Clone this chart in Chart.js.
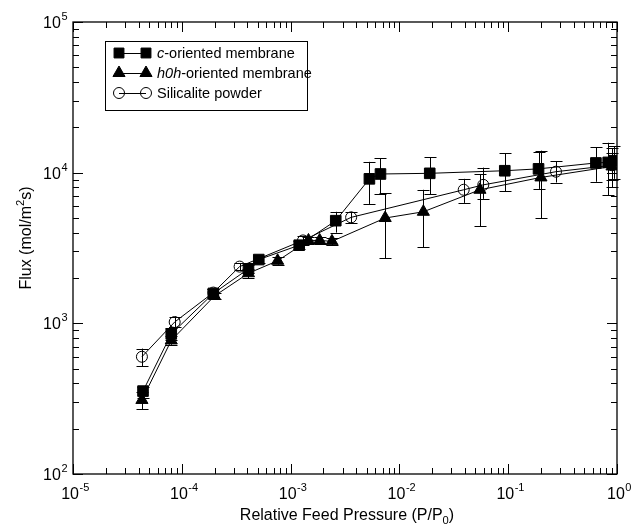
<!DOCTYPE html>
<html>
<head>
<meta charset="utf-8">
<script src="https://cdn.jsdelivr.net/npm/chart.js@4/dist/chart.umd.min.js"></script>
<style>
  html, body { margin: 0; padding: 0; background: #fff; }
</style>
</head>
<body>
<canvas id="fluxChart" width="633" height="526"></canvas>
<script>
// c-oriented membrane (squares)
const cX  = [4.4e-5, 8.0e-5, 1.95e-4, 4.1e-4, 5.1e-4, 1.2e-3, 2.6e-3, 5.3e-3, 6.7e-3, 1.9e-2, 9.3e-2, 0.19, 0.64, 0.83, 0.94]
const cY  = [355, 850, 1580, 2300, 2650, 3300, 4800, 9100, 9800, 9900, 10300, 10600, 11600, 11700, 12000]
const cLo = [320, 780, 1480, 2150, 2500, 3100, 4000, 6200, 7200, 7200, 7500, 7800, 8700, 7100, 9100]
const cHi = [380, 930, 1700, 2450, 2800, 3500, 5500, 11800, 12500, 12700, 13500, 13800, 14700, 15800, 15000]

// h0h-oriented membrane (triangles)
const hX  = [4.3e-5, 8.0e-5, 2.0e-4, 4.1e-4, 7.6e-4, 1.46e-3, 1.85e-3, 2.4e-3, 7.4e-3, 1.66e-2, 5.5e-2, 0.2, 0.9]
const hY  = [310, 770, 1520, 2150, 2600, 3550, 3550, 3500, 5000, 5500, 7700, 9300, 11000]
const hLo = [270, 720, 1450, 2000, 2450, 3350, 3350, 3300, 2700, 3200, 4400, 5000, 8000]
const hHi = [350, 830, 1600, 2300, 2750, 3750, 3750, 3700, 7300, 7700, 9800, 14000, 14500]

// Silicalite powder (open circles)
const sX  = [4.3e-5, 8.6e-5, 1.95e-4, 3.4e-4, 1.3e-3, 3.6e-3, 3.9e-2, 5.9e-2, 0.275, 0.9]
const sY  = [600, 1020, 1600, 2380, 3550, 5050, 7700, 8300, 10150, 11200]
const sLo = [520, 940, 1500, 2250, 3300, 4600, 6300, 6700, 8600, 9000]
const sHi = [680, 1110, 1700, 2500, 3800, 5500, 9100, 10800, 11900, 13500]

const xDecades = [-5, -4, -3, -2, -1, 0]
const yDecades = [2, 3, 4, 5]

const FONT = '"Liberation Sans", Arial, Helvetica, sans-serif'

function toPoints(xs, ys) {
  return xs.map((x, i) => ({x: x, y: ys[i]}))
}

const errors = [
  {lo: sLo, hi: sHi},
  {lo: hLo, hi: hHi},
  {lo: cLo, hi: cHi}
]

// draws "10" with a superscript exponent, anchor is right edge or centre
function drawPow(ctx, x, y, exp, align) {
  ctx.font = '16px ' + FONT
  const w1 = ctx.measureText('10').width
  ctx.font = '11px ' + FONT
  const w2 = ctx.measureText(exp).width
  const left = align === 'center' ? x - (w1 + w2) / 2 : x - w1 - w2
  ctx.textAlign = 'left'
  ctx.textBaseline = 'alphabetic'
  ctx.font = '16px ' + FONT
  ctx.fillText('10', left, y)
  ctx.font = '11px ' + FONT
  ctx.fillText(exp, left + w1 + 0.5, y - 8)
}

// text made of pieces: [text, italic?, shift]
function drawPieces(ctx, x, y, pieces, size) {
  let cx = x
  pieces.forEach(p => {
    const sz = p[2] ? size * 0.7 : size
    ctx.font = (p[1] ? 'italic ' : '') + sz + 'px ' + FONT
    ctx.fillText(p[0], cx, y + (p[2] || 0))
    cx += ctx.measureText(p[0]).width
  })
  return cx - x
}

function piecesWidth(ctx, pieces, size) {
  let w = 0
  pieces.forEach(p => {
    const sz = p[2] ? size * 0.7 : size
    ctx.font = (p[1] ? 'italic ' : '') + sz + 'px ' + FONT
    w += ctx.measureText(p[0]).width
  })
  return w
}

const errorBars = {
  id: 'errorBars',
  beforeDatasetsDraw(chart) {
    const ctx = chart.ctx
    const ys = chart.scales.y
    ctx.save()
    ctx.strokeStyle = '#000'
    ctx.lineWidth = 1
    chart.data.datasets.forEach((ds, di) => {
      const meta = chart.getDatasetMeta(di)
      meta.data.forEach((pt, i) => {
        const x = Math.round(pt.x) + 0.5
        const top = ys.getPixelForValue(errors[di].hi[i])
        const bot = ys.getPixelForValue(errors[di].lo[i])
        ctx.beginPath()
        ctx.moveTo(x, top); ctx.lineTo(x, bot)
        ctx.moveTo(x - 6, Math.round(top) + 0.5); ctx.lineTo(x + 6, Math.round(top) + 0.5)
        ctx.moveTo(x - 6, Math.round(bot) + 0.5); ctx.lineTo(x + 6, Math.round(bot) + 0.5)
        ctx.stroke()
      })
    })
    ctx.restore()
  }
}

const frame = {
  id: 'frame',
  afterDraw(chart) {
    const ctx = chart.ctx
    const a = chart.chartArea
    const xs = chart.scales.x
    const ys = chart.scales.y
    ctx.save()
    ctx.strokeStyle = '#000'
    ctx.fillStyle = '#000'
    ctx.lineWidth = 1.3
    ctx.strokeRect(a.left, a.top, a.right - a.left, a.bottom - a.top)

    ctx.lineWidth = 1
    ctx.beginPath()
    // x ticks, bottom and top, inward
    xDecades.forEach((d, k) => {
      for (let m = 1; m <= 9; m++) {
        if (m > 1 && k === xDecades.length - 1) break
        const px = Math.round(xs.getPixelForValue(m * Math.pow(10, d))) + 0.5
        const len = m === 1 ? 10 : 6
        ctx.moveTo(px, a.bottom); ctx.lineTo(px, a.bottom - len)
        ctx.moveTo(px, a.top); ctx.lineTo(px, a.top + len)
      }
    })
    yDecades.forEach((d, k) => {
      for (let m = 1; m <= 9; m++) {
        if (m > 1 && k === yDecades.length - 1) break
        const py = Math.round(ys.getPixelForValue(m * Math.pow(10, d))) + 0.5
        const len = m === 1 ? 10 : 6
        ctx.moveTo(a.left, py); ctx.lineTo(a.left + len, py)
        ctx.moveTo(a.right, py); ctx.lineTo(a.right - len, py)
      }
    })
    ctx.stroke()

    xDecades.forEach(d => {
      drawPow(ctx, xs.getPixelForValue(Math.pow(10, d)) + 2, 499, String(d), 'center')
    })
    yDecades.forEach(d => {
      drawPow(ctx, a.left - 6, ys.getPixelForValue(Math.pow(10, d)) + 6, String(d), 'right')
    })

    // axis titles
    ctx.textAlign = 'left'
    ctx.textBaseline = 'alphabetic'
    const xt = [['Relative Feed Pressure (P/P', false], ['0', false, 4], [')', false]]
    const xw = piecesWidth(ctx, xt, 16)
    drawPieces(ctx, (a.left + a.right) / 2 - xw / 2 + 2, 520, xt, 16)

    const yt = [['Flux (mol/m', false], ['2', false, -7], ['s)', false]]
    const yw = piecesWidth(ctx, yt, 16)
    ctx.save()
    ctx.translate(31, 238)
    ctx.rotate(-Math.PI / 2)
    drawPieces(ctx, -yw / 2, 0, yt, 16)
    ctx.restore()

    // legend
    ctx.lineWidth = 1
    ctx.strokeRect(105.5, 41.5, 202, 69)
    const rows = [
      {style: 'rect', r: 7, fill: '#000', y: 53, text: [['c', true], ['-oriented membrane', false]]},
      {style: 'triangle', r: 7, fill: '#000', y: 73, text: [['h0h', true], ['-oriented membrane', false]]},
      {style: 'circle', r: 5.5, fill: 'rgba(0,0,0,0)', y: 93, text: [['Silicalite powder', false]]}
    ]
    rows.forEach(row => {
      ctx.strokeStyle = '#000'
      ctx.lineWidth = 1
      ctx.beginPath()
      ctx.moveTo(119, row.y + 0.5); ctx.lineTo(146, row.y + 0.5)
      ctx.stroke()
      ctx.fillStyle = row.fill
      const opts = {pointStyle: row.style, radius: row.r, rotation: 0, borderWidth: 1}
      Chart.helpers.drawPoint(ctx, opts, 119, row.y)
      Chart.helpers.drawPoint(ctx, opts, 146, row.y)
      ctx.fillStyle = '#000'
      drawPieces(ctx, 157, row.y + 5, row.text, 14.5)
    })
    ctx.restore()
  }
}

function series(label, xs, ys, style, r, fill) {
  return {
    label: label,
    data: toPoints(xs, ys),
    showLine: true,
    borderColor: '#000',
    borderWidth: 1,
    pointStyle: style,
    pointRadius: r,
    pointBackgroundColor: fill,
    pointBorderColor: '#000',
    pointBorderWidth: 1
  }
}

new Chart(document.getElementById('fluxChart'), {
  type: 'scatter',
  data: {
    datasets: [
      series('Silicalite powder', sX, sY, 'circle', 5.5, 'rgba(0,0,0,0)'),
      series('h0h-oriented membrane', hX, hY, 'triangle', 7, '#000'),
      series('c-oriented membrane', cX, cY, 'rect', 7.5, '#000')
    ]
  },
  options: {
    responsive: false,
    animation: false,
    layout: {padding: {left: 73, right: 16, top: 22, bottom: 52}},
    plugins: {
      legend: {display: false},
      tooltip: {enabled: false}
    },
    scales: {
      x: {type: 'logarithmic', min: 1e-5, max: 1, display: false},
      y: {type: 'logarithmic', min: 100, max: 1e5, display: false}
    }
  },
  plugins: [errorBars, frame]
})
</script>
</body>
</html>
